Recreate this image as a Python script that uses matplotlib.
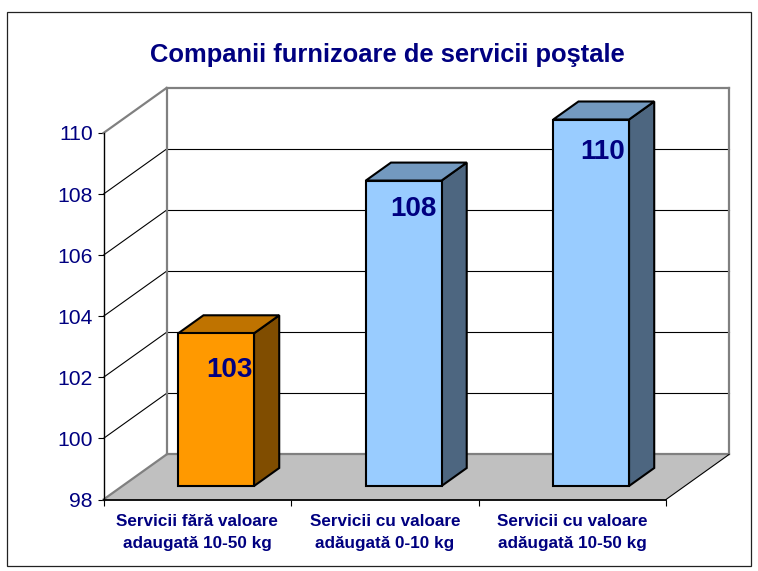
import matplotlib
matplotlib.use("Agg")
import matplotlib.pyplot as plt
from matplotlib.patches import Polygon, Rectangle

categories = ["Servicii fără valoare\nadaugată 10-50 kg",
              "Servicii cu valoare\nadăugată 0-10 kg",
              "Servicii cu valoare\nadăugată 10-50 kg"]
values = [103, 108, 110]
face_colors = ["#FF9900", "#99CCFF", "#99CCFF"]
top_colors = ["#BF7300", "#7399BF", "#7399BF"]
side_colors = ["#804D00", "#4D6680", "#4D6680"]
y_ticks = [98, 100, 102, 104, 106, 108, 110]
title = "Companii furnizoare de servicii poştale"

W, H = 758, 571
NAVY = "#000080"
GRAY = "#808080"

plt.rcParams['font.family'] = ['Liberation Sans', 'DejaVu Sans']

fig = plt.figure(figsize=(W / 100, H / 100), dpi=100)
# front plane of the fake 3D box
left, right, bottom, top = 103.5, 666, 499.5, 133
ax = fig.add_axes([left / W, 1 - bottom / H, (right - left) / W, (bottom - top) / H])
ax.set_xlim(0, 3)
ax.set_ylim(98, 110)
ax.patch.set_visible(False)

# depth of the box in data units
dx = 63 / ((right - left) / 3)
dy = 45 / ((bottom - top) / 12)
y0, y1 = y_ticks[0], y_ticks[-1]


def poly(points, **kw):
    ax.add_patch(Polygon(points, closed=True, clip_on=False, **kw))


def line(xs, ys, color="black", lw=0.8, z=1):
    ax.plot(xs, ys, color=color, lw=lw, clip_on=False, zorder=z, solid_capstyle="projecting")


# floor
poly([(0, y0), (3, y0), (3 + dx, y0 + dy), (dx, y0 + dy)], facecolor="#C0C0C0", edgecolor="none", zorder=1)

# gridlines on side and back wall
for t in y_ticks[1:-1]:
    line([0, dx], [t, t + dy])
    line([dx, 3 + dx], [t + dy, t + dy])

# wall borders
line([dx, dx], [y0 + dy, y1 + dy], GRAY, 1.6, 2)
line([dx, 3 + dx], [y1 + dy, y1 + dy], GRAY, 1.6, 2)
line([3 + dx, 3 + dx], [y0 + dy, y1 + dy], GRAY, 1.6, 2)
line([dx, 3 + dx], [y0 + dy, y0 + dy], GRAY, 1.6, 2)
line([0, dx], [y1, y1 + dy], GRAY, 1.6, 2)
line([0, dx], [y0, y0 + dy], GRAY, 1.6, 2)
line([3, 3 + dx], [y0, y0 + dy], "black", 0.8, 2)

# bars
bar_w = 0.404
near = 0.3   # bar front, as share of depth
far = 0.7    # bar back
for i, v in enumerate(values):
    x0 = i + 0.5 - bar_w / 2 + near * dx
    x1 = x0 + bar_w
    b = y0 + near * dy
    t = v + near * dy
    ox, oy = (far - near) * dx, (far - near) * dy
    style = dict(edgecolor="black", lw=1.5, joinstyle="miter", zorder=3)
    poly([(x1, b), (x1 + ox, b + oy), (x1 + ox, t + oy), (x1, t)], facecolor=side_colors[i], **style)
    poly([(x0, t), (x1, t), (x1 + ox, t + oy), (x0 + ox, t + oy)], facecolor=top_colors[i], **style)
    poly([(x0, b), (x1, b), (x1, t), (x0, t)], facecolor=face_colors[i], **style)

# data labels sit at slightly different spots on each bar
label_dx = [-1, -5, -4]
label_dy = [-23, -15, -19]
for i, v in enumerate(values):
    x1 = i + 0.5 + bar_w / 2 + near * dx
    ax.annotate(str(v), (x1, v), xytext=(label_dx[i] * 0.72, label_dy[i] * 0.72),
                textcoords="offset points", ha="right", va="center", color=NAVY,
                fontsize=20, fontweight="bold", zorder=5)

# axes
for s in ("top", "right"):
    ax.spines[s].set_visible(False)
for s in ("left", "bottom"):
    ax.spines[s].set_linewidth(1.0)
    ax.spines[s].set_zorder(4)
ax.spines["bottom"].set_linewidth(1.3)
ax.set_yticks(y_ticks)
ax.tick_params(axis="y", length=4.6, width=0.8, pad=3, labelsize=15.2, labelcolor=NAVY)
ax.set_xticks([0, 1, 2, 3], [])
ax.tick_params(axis="x", which="major", length=4.6, width=0.8)
ax.set_xticks([0.5, 1.5, 2.5], categories, minor=True)
ax.tick_params(axis="x", which="minor", length=0, pad=10.8, labelsize=12.3, labelcolor=NAVY)
for lab in ax.get_xticklabels(minor=True):
    lab.set_fontweight("bold")
    lab.set_linespacing(1.55)

fig.text(387.5 / W, 1 - 55 / H, title, ha="center", va="center", color=NAVY,
         fontsize=18.35, fontweight="bold")

# outer frame
fig.add_artist(Rectangle((7 / W, 1 - 566 / H), 744 / W, 554 / H, transform=fig.transFigure,
                         facecolor="none", edgecolor="#222222", lw=0.9))

fig.savefig("out.png", dpi=100)
